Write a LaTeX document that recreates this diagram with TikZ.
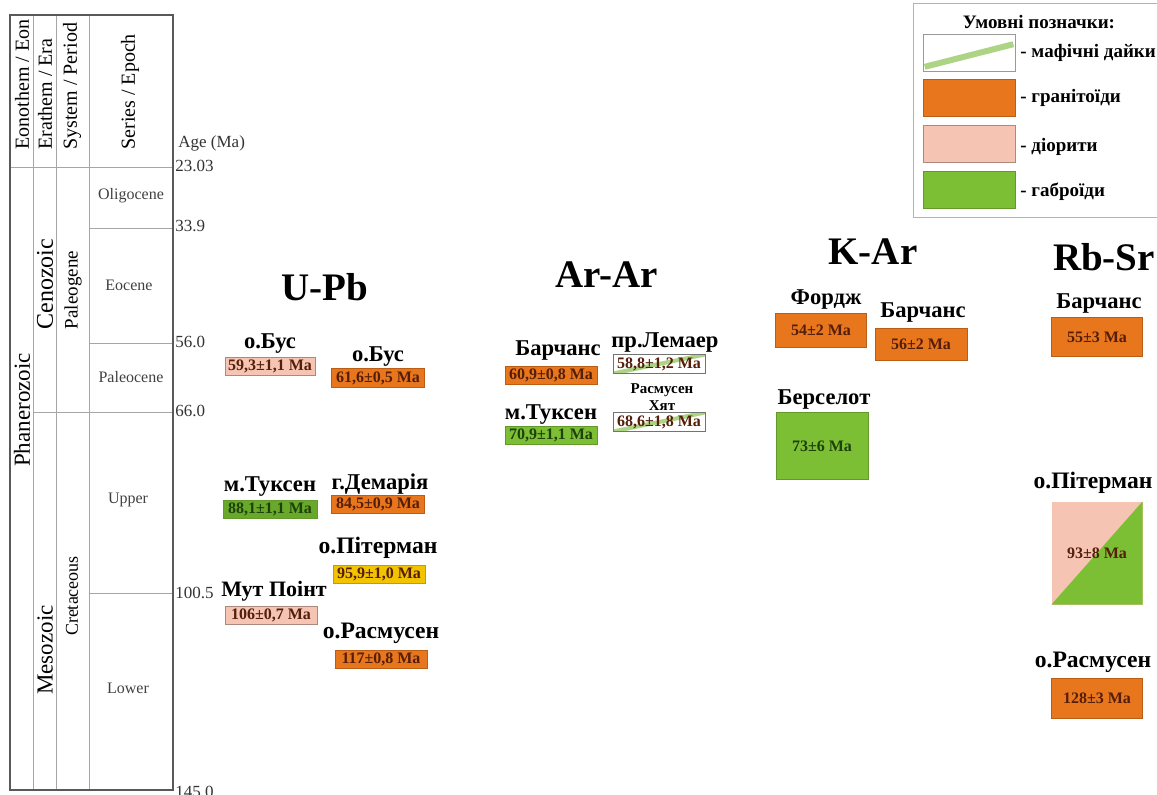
\documentclass[tikz,border=0pt]{standalone}
\usepackage{fontspec}
\setmainfont{Liberation Serif}
\definecolor{granite}{RGB}{232,118,28}
\definecolor{diorite}{RGB}{245,196,178}
\definecolor{gabbro}{RGB}{124,190,52}
\definecolor{gabbrodark}{RGB}{104,168,42}
\definecolor{dykegreen}{RGB}{172,212,132}
\definecolor{zircon}{RGB}{242,196,0}
\definecolor{boxtext}{RGB}{85,30,10}
\definecolor{gabbrotext}{RGB}{30,65,10}

\begin{document}
\begin{tikzpicture}[
        x=0.5pt, y=-0.5pt,
        frame line/.style={draw=black!65, line width=0.9pt},
        grid line/.style={draw=black!35, line width=0.4pt},
        head label/.style={font=\fontsize{10}{10}\selectfont, rotate=90, anchor=west, inner sep=0pt},
        unit label/.style={rotate=90, inner sep=0pt},
        epoch label/.style={font=\fontsize{8}{8}\selectfont, text=black!75},
        age label/.style={font=\fontsize{8.5}{8.5}\selectfont, anchor=west, inner sep=0pt, text=black!80},
        method/.style={font=\fontsize{19.5}{20}\selectfont\bfseries},
        site/.style={font=\fontsize{11.3}{12}\selectfont\bfseries, inner sep=0pt},
        agebox/.style={minimum width=45pt, minimum height=9pt, inner sep=0pt,
            font=\fontsize{8}{8}\selectfont\bfseries, text=boxtext, line width=0.3pt},
        granite box/.style={agebox, fill=granite, draw=granite!80!black},
        diorite box/.style={agebox, fill=diorite, draw=diorite!70!black},
        gabbro box/.style={agebox, fill=gabbro, draw=gabbro!80!black, text=gabbrotext},
        zircon box/.style={agebox, fill=zircon, draw=zircon!80!black},
        dyke box/.style={agebox, fill=white, draw=black!55, path picture={
            \draw[dykegreen, line width=2pt] (path picture bounding box.south west) -- (path picture bounding box.north east);}},
        legend swatch/.style={minimum width=46pt, minimum height=18.5pt, inner sep=0pt, line width=0.3pt},
        legend label/.style={font=\fontsize{9.5}{10}\selectfont\bfseries, anchor=west, inner sep=0pt}
      ]

      \useasboundingbox (0,0) rectangle (1157,794);

      % time scale
      \draw[grid line] (33,15) -- (33,790);
      \draw[grid line] (56,15) -- (56,790);
      \draw[grid line] (89,15) -- (89,790);
      \draw[grid line] (10,167) -- (173,167);
      \draw[grid line] (89,228) -- (173,228);
      \draw[grid line] (89,343) -- (173,343);
      \draw[grid line] (33,412) -- (173,412);
      \draw[grid line] (89,593) -- (173,593);
      \draw[frame line] (10,15) rectangle (173,790);

      \node[head label] (hEon) at (22,150) {Eonothem / Eon};
      \node[head label] (hEra) at (45,150) {Erathem / Era};
      \node[head label] (hPeriod) at (72,150) {System / Period};
      \node[head label] (hEpoch) at (130,150) {Series / Epoch};

      \node[unit label, font=\fontsize{11.5}{12}\selectfont] (phan) at (22,410) {Phanerozoic};
      \node[unit label, font=\fontsize{12}{12}\selectfont] (ceno) at (45,284) {Cenozoic};
      \node[unit label, font=\fontsize{11.5}{12}\selectfont] (meso) at (45,650) {Mesozoic};
      \node[unit label, font=\fontsize{9.5}{10}\selectfont] (paleog) at (73,290) {Paleogene};
      \node[unit label, font=\fontsize{9}{10}\selectfont] (cret) at (72,596) {Cretaceous};

      \node[epoch label] (oligo) at (131,196) {Oligocene};
      \node[epoch label] (eoc) at (129,285) {Eocene};
      \node[epoch label] (paleoc) at (131,377) {Paleocene};
      \node[epoch label] (upper) at (128,500) {Upper};
      \node[epoch label] (lower) at (128,688) {Lower};

      \node[age label] (ageHead) at (178,143) {Age (Ma)};
      \foreach \a/\y in {23.03/166, 33.9/226, 56.0/342, 66.0/411, 100.5/593, 145.0/792} {
          \node[age label] (age\a) at (175,\y) {\a};
        }

      % U-Pb
      \node[method] (upb) at (325,287) {U-Pb};
      \node[site] (upbBusA) at (270,344) {о.Бус};
      \node[diorite box] (b593) at (270,366) {59,3±1,1 Ma};
      \node[site] (upbBusB) at (378,357) {о.Бус};
      \node[granite box, minimum width=46.5pt, minimum height=9.5pt] (b616) at (378,378) {61,6±0,5 Ma};
      \node[site] (upbTuks) at (270,487) {м.Туксен};
      \node[gabbro box, fill=gabbrodark, minimum width=47pt] (b881) at (270,509) {88,1±1,1 Ma};
      \node[site] (upbDem) at (380,484) {г.Демарія};
      \node[granite box, minimum width=46.5pt] (b845) at (378,504) {84,5±0,9 Ma};
      \node[site, font=\fontsize{11.8}{12}\selectfont\bfseries] (upbPit) at (378,548) {о.Пітерман};
      \node[zircon box, minimum width=46pt] (b959) at (379,574) {95,9±1,0 Ma};
      \node[site, font=\fontsize{11}{12}\selectfont\bfseries] (upbMut) at (274,591) {Мут Поінт};
      \node[diorite box, minimum width=46pt] (b106) at (271,615) {106±0,7 Ma};
      \node[site, font=\fontsize{11.8}{12}\selectfont\bfseries] (upbRas) at (381,633) {о.Расмусен};
      \node[granite box, minimum width=46pt] (b117) at (381,659) {117±0,8 Ma};

      % Ar-Ar
      \node[method] (arar) at (607,275) {Ar-Ar};
      \node[site] (ararBar) at (558,350) {Барчанс};
      \node[granite box, minimum width=46pt] (b609) at (551,375) {60,9±0,8 Ma};
      \node[site] (ararLem) at (665,342) {пр.Лемаер};
      \node[dyke box, minimum width=46pt, minimum height=9.5pt] (b588) at (659,364) {58,8±1,2 Ma};
      \node[site, font=\fontsize{7.5}{8.5}\selectfont\bfseries, align=center] (ararRas) at (662,397) {Расмусен\\Хят};
      \node[dyke box, minimum width=46pt, minimum height=9.5pt] (b686) at (659,422) {68,6±1,8 Ma};
      \node[site] (ararTuks) at (551,415) {м.Туксен};
      \node[gabbro box, minimum width=46pt] (b709) at (551,435) {70,9±1,1 Ma};

      % K-Ar
      \node[method] (kar) at (873,252) {K-Ar};
      \node[site] (karFor) at (826,299) {Фордж};
      \node[granite box, minimum width=45.5pt, minimum height=17pt] (b54) at (821,330) {54±2 Ma};
      \node[site] (karBar) at (923,312) {Барчанс};
      \node[granite box, minimum width=46pt, minimum height=16pt] (b56) at (921,344) {56±2 Ma};
      \node[site] (karBer) at (824,399) {Берселот};
      \node[gabbro box, minimum width=46pt, minimum height=33.5pt] (b73) at (822,446) {73±6 Ma};

      % Rb-Sr
      \node[method] (rbsr) at (1104,257) {Rb-Sr};
      \node[site] (rbsrBar) at (1099,303) {Барчанс};
      \node[granite box, minimum width=45.5pt, minimum height=19.5pt] (b55) at (1097,337) {55±3 Ma};
      \node[site, font=\fontsize{11.8}{12}\selectfont\bfseries] (rbsrPit) at (1093,483) {о.Пітерман};
      \node[diorite box, draw=none, minimum width=45.5pt, minimum height=51.5pt, path picture={
          \fill[gabbro] (path picture bounding box.south west) -- (path picture bounding box.south east)
            -- (path picture bounding box.north east) -- cycle;}] (b93) at (1097,553) {93±8 Ma};
      \node[site, font=\fontsize{11.8}{12}\selectfont\bfseries] (rbsrRas) at (1093,662) {о.Расмусен};
      \node[granite box, minimum width=45.5pt, minimum height=20pt] (b128) at (1097,698) {128±3 Ma};

      % legend
      \draw[black!30, line width=0.4pt] (913,3) rectangle (1162,217);
      \node[font=\fontsize{9.5}{10}\selectfont\bfseries] (lgTitle) at (1039,22) {Умовні позначки:};
      \node[legend swatch, fill=white, draw=black!40] (lgDyke) at (969,53) {};
      \draw[dykegreen, line width=3pt] ([xshift=1pt, yshift=2.5pt]lgDyke.south west) -- ([xshift=-1pt, yshift=-5pt]lgDyke.north east);
      \node[legend swatch, fill=granite, draw=granite!80!black] (lgGran) at (969,98) {};
      \node[legend swatch, fill=diorite, draw=diorite!70!black] (lgDior) at (969,144) {};
      \node[legend swatch, fill=gabbro, draw=gabbro!80!black] (lgGab) at (969,190) {};
      \node[legend label] (lgDykeTxt) at (1020,53) {- мафічні дайки};
      \node[legend label] (lgGranTxt) at (1020,98) {- гранітоїди};
      \node[legend label] (lgDiorTxt) at (1020,147) {- діорити};
      \node[legend label] (lgGabTxt) at (1020,192) {- габроїди};

    \end{tikzpicture}
\end{document}
